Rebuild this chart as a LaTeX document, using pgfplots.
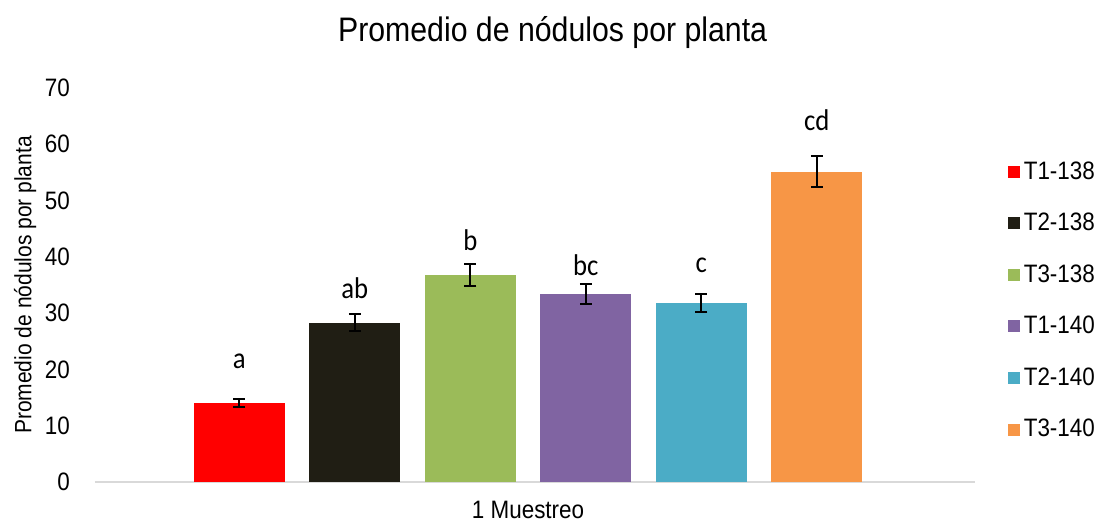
\documentclass[border=0pt]{standalone}
\usepackage{fontspec}
\setmainfont[FakeStretch=0.89]{Liberation Sans}
\newfontfamily\calfont[FakeStretch=0.89]{Carlito}
\usepackage{pgfplots}
\pgfplotsset{compat=1.18}
\definecolor{cT1a}{RGB}{255,0,0}
\definecolor{cT2a}{RGB}{32,30,20}
\definecolor{cT3a}{RGB}{155,187,89}
\definecolor{cT1b}{RGB}{128,100,162}
\definecolor{cT2b}{RGB}{75,172,198}
\definecolor{cT3b}{RGB}{247,150,70}
\definecolor{axgray}{RGB}{217,217,217}

\begin{document}
\begin{tikzpicture}
\path[use as bounding box] (-47.5pt,-20.5pt) rectangle (503.5pt,241pt);
\begin{axis}[
  scale only axis,
  width=440pt, height=197pt,
  ybar, bar shift=0pt, bar width=0.79,
  xmin=-0.25, xmax=7.37,
  ymin=0, ymax=70,
  ytick={0,10,...,70},
  xtick={3.5}, xticklabels={1 Muestreo},
  major tick length=0pt,
  separate axis lines,
  axis x line*=bottom, axis y line*=left,
  x axis line style={axgray, line width=1pt},
  y axis line style={draw=none},
  /pgf/number format/assume math mode=true,
  tick label style={font=\fontsize{12.6}{14}\selectfont},
  yticklabel style={xshift=-9pt},
  xticklabel style={yshift=-6pt},
  ylabel={Promedio de nódulos por planta},
  ylabel style={font=\fontsize{11.8}{13}\selectfont, at={(axis description cs:-0.0795,0.5)}, anchor=center},
  title={Promedio de nódulos por planta},
  title style={font=\fontsize{17}{19}\selectfont, at={(axis description cs:0.52,1)}, anchor=south, yshift=10pt},
  legend style={draw=none, fill=none, at={(axis description cs:1.03,0.835)}, anchor=north west,
    font=\fontsize{12.6}{14}\selectfont, row sep=11.5pt},
  legend cell align=left,
  area legend,
  legend image code/.code={\fill[#1] (0pt,-3pt) rectangle (6pt,3pt);},
  error bars/error bar style={black, line width=1pt},
  error bars/error mark options={rotate=90, black, mark size=3pt, line width=1pt},
]
\addplot[fill=cT1a, draw=none, error bars/.cd, y dir=both, y explicit] coordinates {(1,14.1) +- (0,0.7)};
\addlegendentry{T1-138}
\addplot[fill=cT2a, draw=none, error bars/.cd, y dir=both, y explicit] coordinates {(2,28.3) +- (0,1.5)};
\addlegendentry{T2-138}
\addplot[fill=cT3a, draw=none, error bars/.cd, y dir=both, y explicit] coordinates {(3,36.8) +- (0,1.9)};
\addlegendentry{T3-138}
\addplot[fill=cT1b, draw=none, error bars/.cd, y dir=both, y explicit] coordinates {(4,33.4) +- (0,1.7)};
\addlegendentry{T1-140}
\addplot[fill=cT2b, draw=none, error bars/.cd, y dir=both, y explicit] coordinates {(5,31.8) +- (0,1.65)};
\addlegendentry{T2-140}
\addplot[fill=cT3b, draw=none, error bars/.cd, y dir=both, y explicit] coordinates {(6,55.1) +- (0,2.75)};
\addlegendentry{T3-140}
\node[font=\calfont\fontsize{15}{17}\selectfont] at (axis cs:1,21.4) {a};
\node[font=\calfont\fontsize{15}{17}\selectfont] at (axis cs:2,34.5) {ab};
\node[font=\calfont\fontsize{15}{17}\selectfont] at (axis cs:3,43.0) {b};
\node[font=\calfont\fontsize{15}{17}\selectfont] at (axis cs:4,38.5) {bc};
\node[font=\calfont\fontsize{15}{17}\selectfont] at (axis cs:5,38.5) {c};
\node[font=\calfont\fontsize{15}{17}\selectfont] at (axis cs:6,64.2) {cd};
\end{axis}
\end{tikzpicture}
\end{document}
